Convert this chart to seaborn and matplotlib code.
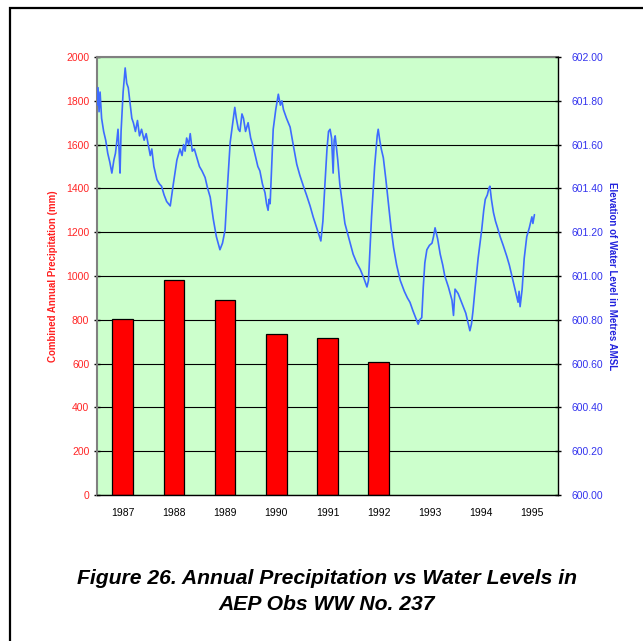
import matplotlib
matplotlib.use("Agg")
import matplotlib.pyplot as plt
import seaborn as sns
import pandas as pd
import numpy as np
from matplotlib.patches import Rectangle

# precipitation bars
years = ['1987', '1988', '1989', '1990', '1991', '1992', '1993', '1994', '1995']
precip_years = ['1987', '1988', '1989', '1990', '1991', '1992']
precip_mm = [802, 980, 890, 734, 715, 609]

# water level trace (decimal year, metres AMSL), one year per block
level_year = (
    [1987.00, 1987.02, 1987.04, 1987.06, 1987.09, 1987.13, 1987.17, 1987.21, 1987.25, 1987.29,
     1987.33, 1987.36, 1987.38, 1987.41, 1987.43, 1987.45, 1987.47, 1987.51, 1987.55, 1987.58,
     1987.61, 1987.64, 1987.68, 1987.71, 1987.75, 1987.79, 1987.83, 1987.87, 1987.92, 1987.96]
    + [1988.00, 1988.04, 1988.07, 1988.11, 1988.14, 1988.17, 1988.22, 1988.26, 1988.31, 1988.36,
       1988.43, 1988.49, 1988.56, 1988.62, 1988.66, 1988.69, 1988.72, 1988.75, 1988.79, 1988.82,
       1988.86, 1988.90, 1988.95]
    + [1989.00, 1989.05, 1989.11, 1989.16, 1989.21, 1989.27, 1989.33, 1989.40, 1989.45, 1989.50,
       1989.55, 1989.60, 1989.65, 1989.69, 1989.72, 1989.76, 1989.79, 1989.83, 1989.86, 1989.90,
       1989.95]
    + [1990.00, 1990.05, 1990.10, 1990.14, 1990.18, 1990.23, 1990.28, 1990.31, 1990.34, 1990.36,
       1990.38, 1990.41, 1990.44, 1990.49, 1990.54, 1990.58, 1990.61, 1990.64, 1990.70, 1990.77,
       1990.83, 1990.90, 1990.96]
    + [1991.03, 1991.09, 1991.16, 1991.22, 1991.29, 1991.33, 1991.37, 1991.41, 1991.45, 1991.49,
       1991.52, 1991.55, 1991.58, 1991.61, 1991.63, 1991.65, 1991.70, 1991.74, 1991.79, 1991.84,
       1991.92]
    + [1992.00, 1992.07, 1992.14, 1992.21, 1992.27, 1992.30, 1992.33, 1992.36, 1992.42, 1992.47,
       1992.49, 1992.52, 1992.55, 1992.59, 1992.64, 1992.69, 1992.74, 1992.79, 1992.85, 1992.92]
    + [1993.00, 1993.06, 1993.11, 1993.17, 1993.22, 1993.27, 1993.30, 1993.34, 1993.37, 1993.40,
       1993.44, 1993.49, 1993.54, 1993.57, 1993.60, 1993.65, 1993.70, 1993.75, 1993.79, 1993.86,
       1993.93, 1993.96, 1993.99]
    + [1994.05, 1994.10, 1994.15, 1994.20, 1994.24, 1994.28, 1994.31, 1994.34, 1994.38, 1994.44,
       1994.51, 1994.55, 1994.58, 1994.62, 1994.65, 1994.67, 1994.70, 1994.74, 1994.78, 1994.82,
       1994.87, 1994.93]
    + [1995.00, 1995.05, 1995.10, 1995.14, 1995.18, 1995.22, 1995.24, 1995.26, 1995.28, 1995.30,
       1995.34, 1995.39, 1995.44, 1995.49, 1995.51, 1995.54]
)
level_m = (
    [601.78, 601.86, 601.75, 601.84, 601.72, 601.66, 601.62, 601.56, 601.52, 601.47,
     601.53, 601.56, 601.60, 601.67, 601.58, 601.47, 601.66, 601.84, 601.95, 601.88,
     601.86, 601.80, 601.72, 601.70, 601.66, 601.71, 601.64, 601.67, 601.62, 601.65]
    + [601.60, 601.55, 601.58, 601.50, 601.47, 601.44, 601.42, 601.41, 601.37, 601.34,
       601.32, 601.42, 601.53, 601.58, 601.55, 601.60, 601.57, 601.63, 601.60, 601.65,
       601.57, 601.58, 601.54]
    + [601.50, 601.48, 601.45, 601.40, 601.36, 601.26, 601.18, 601.12, 601.15, 601.21,
       601.42, 601.61, 601.70, 601.77, 601.72, 601.67, 601.66, 601.74, 601.72, 601.66,
       601.70]
    + [601.63, 601.59, 601.54, 601.50, 601.48, 601.42, 601.38, 601.33, 601.30, 601.35,
       601.33, 601.50, 601.67, 601.76, 601.83, 601.78, 601.80, 601.76, 601.72, 601.68,
       601.60, 601.51, 601.46]
    + [601.41, 601.37, 601.32, 601.27, 601.22, 601.19, 601.16, 601.25, 601.42, 601.58,
       601.66, 601.67, 601.63, 601.47, 601.62, 601.64, 601.53, 601.42, 601.33, 601.24,
       601.17]
    + [601.10, 601.06, 601.03, 600.99, 600.95, 600.98, 601.12, 601.27, 601.50, 601.64,
       601.67, 601.62, 601.58, 601.54, 601.44, 601.33, 601.22, 601.13, 601.05, 600.98]
    + [600.93, 600.90, 600.88, 600.84, 600.81, 600.78, 600.80, 600.81, 600.95, 601.06,
       601.12, 601.14, 601.15, 601.18, 601.22, 601.17, 601.10, 601.05, 601.00, 600.95,
       600.89, 600.82, 600.94]
    + [600.92, 600.89, 600.86, 600.83, 600.79, 600.75, 600.78, 600.84, 600.94, 601.08,
       601.21, 601.30, 601.35, 601.37, 601.40, 601.41, 601.35, 601.29, 601.25, 601.22,
       601.18, 601.14]
    + [601.09, 601.05, 601.00, 600.96, 600.92, 600.88, 600.93, 600.86, 600.90, 600.94,
       601.08, 601.18, 601.22, 601.27, 601.24, 601.28]
)

left_ticks = [0, 200, 400, 600, 800, 1000, 1200, 1400, 1600, 1800, 2000]
right_ticks = [600.0, 600.2, 600.4, 600.6, 600.8, 601.0, 601.2, 601.4, 601.6, 601.8, 602.0]

sns.set_style("white")
plt.rcParams['font.family'] = ['Liberation Sans', 'DejaVu Sans']
plt.rcParams['text.color'] = 'black'

fig = plt.figure(figsize=(6.43, 6.41), dpi=100)
ax = fig.add_axes([97 / 643, 1 - 495 / 641, 461 / 643, 438 / 641])
ax.set_facecolor('#CCFFCC')

bars = pd.DataFrame({'year': precip_years, 'precip': precip_mm})
sns.barplot(data=bars, x='year', y='precip', order=years, color='#FF0000',
            saturation=1, width=0.4, edgecolor='black', linewidth=0.9, ax=ax)

ax.set_xlim(-0.5, len(years) - 0.5)
ax.set_ylim(0, 2000)
ax.set_yticks(left_ticks)
ax.set_yticklabels([str(t) for t in left_ticks], color='#FF2626', fontsize=7.5)
ax.yaxis.grid(True, color='black', linewidth=0.8)
ax.set_axisbelow(True)
ax.tick_params(axis='y', direction='inout', length=5, width=1, color='black', pad=3)

# category labels at the centres, tick marks at the boundaries
ax.set_xticks(range(len(years)))
ax.set_xticklabels(years, fontsize=7.5, color='black')
ax.set_xticks(np.arange(-0.5, len(years), 1.0), minor=True)
ax.tick_params(axis='x', which='major', length=0, pad=9)
ax.tick_params(axis='x', which='minor', direction='inout', length=5, width=1, color='black')
ax.set_xlabel('')
ax.set_ylabel('Combined Annual Precipitation (mm)', color='#FF2020', fontsize=7,
              fontweight='bold', labelpad=6)

for side in ['left', 'top']:
    ax.spines[side].set_color('#808080')
    ax.spines[side].set_linewidth(1.5)
ax.spines['bottom'].set_color('black')
ax.spines['bottom'].set_linewidth(1)
ax.spines['right'].set_visible(False)

ax2 = ax.twinx()
level_pos = [y - 1987 - 0.5 for y in level_year]
sns.lineplot(x=level_pos, y=level_m, sort=False, estimator=None, color='#3D6BFF',
             linewidth=1.2, ax=ax2)
ax2.set_ylim(600, 602)
ax2.set_yticks(right_ticks)
ax2.set_yticklabels(['%.2f' % t for t in right_ticks], color='#3333EE', fontsize=7.5)
ax2.tick_params(axis='y', direction='inout', length=5, width=1, color='black', pad=7)
ax2.set_ylabel('Elevation of Water Level in Metres AMSL', color='#2222DD', fontsize=7,
               fontweight='bold', rotation=270, labelpad=10)
ax2.spines['right'].set_color('black')
ax2.spines['right'].set_linewidth(1)
for side in ['left', 'top', 'bottom']:
    ax2.spines[side].set_visible(False)
ax2.grid(False)

fig.text(327 / 643, 1 - 579 / 641, 'Figure 26. Annual Precipitation vs Water Levels in',
         ha='center', va='center', fontsize=15.2, fontweight='bold', fontstyle='italic',
         color='black')
fig.text(327 / 643, 1 - 604 / 641, 'AEP Obs WW No. 237',
         ha='center', va='center', fontsize=15.2, fontweight='bold', fontstyle='italic',
         color='black')

# outer frame (only left and top edges fall inside the image)
fig.patches.append(Rectangle((10 / 643, -0.05), 1.1, (1 - 8 / 641) + 0.05,
                             transform=fig.transFigure, fill=False,
                             edgecolor='black', linewidth=1.6))

fig.savefig('out.png', dpi=100)
